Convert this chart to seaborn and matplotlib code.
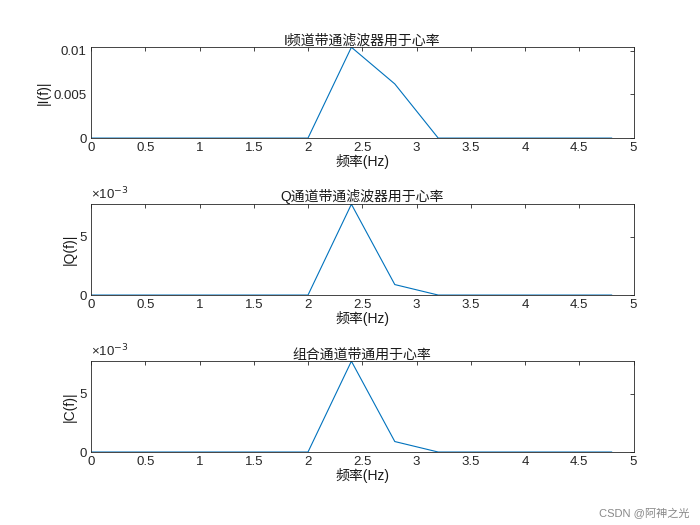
import numpy as np
import seaborn as sns
import matplotlib
matplotlib.use('Agg')
import matplotlib.pyplot as plt

freq = [0, 0.4, 0.8, 1.2, 1.6, 2.0, 2.4, 2.8, 3.2, 3.6, 4.0, 4.4, 4.8]
i_spec = [0, 0, 0, 0, 0, 0, 0.0104, 0.0062, 0, 0, 0, 0, 0]
q_spec = [0, 0, 0, 0, 0, 0, 0.0078, 0.0009, 0, 0, 0, 0, 0]
c_spec = [0, 0, 0, 0, 0, 0, 0.0078, 0.0009, 0, 0, 0, 0, 0]
titles = ['I频道带通滤波器用于心率', 'Q通道带通滤波器用于心率', '组合通道带通用于心率']
ylabels = ['|I(f)|', '|Q(f)|', '|C(f)|']

sns.set_theme(style='white')
plt.rcParams['font.family'] = ['Liberation Sans', 'Noto Sans CJK SC', 'DejaVu Sans']
plt.rcParams['font.size'] = 9

fig = plt.figure(figsize=(7, 5.25), dpi=100)
bottoms = [0.737, 0.438, 0.139]
series = [i_spec, q_spec, c_spec]

for k in range(3):
    ax = fig.add_axes([0.13, bottoms[k], 0.775, 0.173])
    sns.lineplot(x=freq, y=series[k], ax=ax, color='#0072BD', linewidth=0.8)
    ax.set_xlim(0, 5)
    ymax = max(series[k])
    ax.set_ylim(0, ymax)
    ax.set_xticks(np.arange(0, 5.01, 0.5))
    ax.set_xticklabels(['0', '0.5', '1', '1.5', '2', '2.5', '3', '3.5', '4', '4.5', '5'])
    if k == 0:
        ax.set_yticks([0, 0.005, 0.01])
        ax.set_yticklabels(['0', '0.005', '0.01'])
    else:
        ax.set_yticks([0, 0.005])
        ax.set_yticklabels(['0', '5'])
        ax.text(0, 1.02, '×10$^{-3}$', transform=ax.transAxes, fontsize=9.5,
                color='#262626', va='bottom')
    ax.tick_params(direction='in', top=True, right=True, length=3,
                   labelsize=9.5, colors='#262626', width=0.6, pad=3)
    for s in ax.spines.values():
        s.set_color('#262626')
        s.set_linewidth(0.6)
    ax.set_title(titles[k], fontsize=10, pad=2, color='#1a1a1a')
    ax.set_xlabel('频率(Hz)', fontsize=10, labelpad=0, color='#1a1a1a')
    ax.set_ylabel(ylabels[k], fontsize=10, labelpad=2, color='#1a1a1a')

fig.text(0.985, 0.012, 'CSDN @阿神之光', ha='right', va='bottom', fontsize=8,
         color='#888888')
fig.savefig('out.png', dpi=100, facecolor='white')
